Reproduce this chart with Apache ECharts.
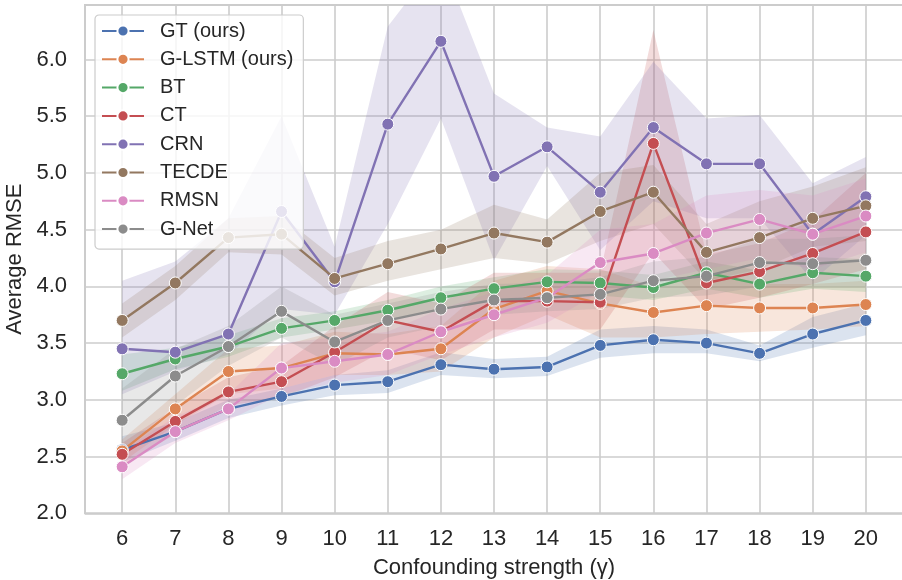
<!DOCTYPE html>
<html>
<head>
<meta charset="utf-8">
<script src="https://cdn.jsdelivr.net/npm/echarts@6/dist/echarts.min.js"></script>
<style>
  html, body { margin: 0; padding: 0; background: #fff; }
  #chart { width: 902px; height: 580px; }
</style>
</head>
<body>
<div id="chart"></div>
<script>
// Confounding strength values on the x axis
const gammas = [6, 7, 8, 9, 10, 11, 12, 13, 14, 15, 16, 17, 18, 19, 20];
const yTicks = [2.0, 2.5, 3.0, 3.5, 4.0, 4.5, 5.0, 5.5, 6.0];

const modelNames = ['GT (ours)', 'G-LSTM (ours)', 'BT', 'CT', 'CRN', 'TECDE', 'RMSN', 'G-Net'];
const modelColors = ['#4c72b0', '#dd8452', '#55a868', '#c44e52', '#8172b3', '#937860', '#da8bc3', '#8c8c8c'];

// Mean RMSE per model
const gtMean    = [2.56, 2.72, 2.92, 3.03, 3.13, 3.16, 3.31, 3.27, 3.29, 3.48, 3.53, 3.50, 3.41, 3.58, 3.70];
const glstmMean = [2.55, 2.92, 3.25, 3.28, 3.41, 3.40, 3.45, 3.80, 3.96, 3.85, 3.77, 3.83, 3.81, 3.81, 3.84];
const btMean    = [3.23, 3.36, 3.47, 3.63, 3.70, 3.79, 3.90, 3.98, 4.04, 4.03, 3.99, 4.12, 4.02, 4.12, 4.09];
const ctMean    = [2.52, 2.81, 3.07, 3.16, 3.42, 3.70, 3.60, 3.87, 3.87, 3.86, 5.26, 4.03, 4.13, 4.29, 4.48];
const crnMean   = [3.45, 3.42, 3.58, 4.66, 4.04, 5.43, 6.16, 4.97, 5.23, 4.83, 5.40, 5.08, 5.08, 4.46, 4.79];
const tecdeMean = [3.70, 4.03, 4.43, 4.46, 4.07, 4.20, 4.33, 4.47, 4.39, 4.66, 4.83, 4.30, 4.43, 4.60, 4.71];
const rmsnMean  = [2.41, 2.72, 2.92, 3.28, 3.34, 3.40, 3.60, 3.75, 3.90, 4.21, 4.29, 4.47, 4.59, 4.46, 4.62];
const gnetMean  = [2.82, 3.21, 3.47, 3.78, 3.51, 3.70, 3.80, 3.88, 3.90, 3.93, 4.05, 4.09, 4.21, 4.20, 4.23];

// 95% confidence interval bounds per model
const gtLow     = [2.45, 2.64, 2.84, 2.95, 3.04, 3.06, 3.22, 3.19, 3.21, 3.37, 3.41, 3.41, 3.34, 3.46, 3.57];
const gtHigh    = [2.68, 2.80, 3.00, 3.10, 3.22, 3.26, 3.42, 3.36, 3.38, 3.62, 3.65, 3.62, 3.48, 3.73, 3.85];
const glstmLow  = [2.45, 2.78, 3.05, 3.10, 3.22, 3.22, 3.25, 3.55, 3.75, 3.55, 3.55, 3.58, 3.60, 3.62, 3.65];
const glstmHigh = [2.65, 3.05, 3.45, 3.48, 3.60, 3.58, 3.65, 4.05, 4.18, 4.15, 4.00, 4.10, 4.02, 4.02, 4.05];
const btLow     = [3.08, 3.27, 3.38, 3.55, 3.62, 3.70, 3.80, 3.88, 3.93, 3.92, 3.88, 3.98, 3.90, 3.98, 3.95];
const btHigh    = [3.40, 3.46, 3.57, 3.72, 3.78, 3.88, 4.00, 4.08, 4.15, 4.14, 4.10, 4.22, 4.14, 4.26, 4.24];
const ctLow     = [2.42, 2.70, 2.95, 3.02, 3.20, 3.45, 3.35, 3.62, 3.62, 3.62, 4.30, 3.80, 3.90, 4.02, 4.15];
const ctHigh    = [2.62, 2.93, 3.20, 3.30, 3.65, 3.95, 3.85, 4.12, 4.12, 4.12, 6.26, 4.28, 4.38, 4.58, 5.00];
const crnLow    = [3.05, 3.25, 3.40, 3.80, 3.75, 4.55, 5.48, 4.23, 5.06, 4.32, 4.75, 4.60, 4.60, 4.05, 4.45];
const crnHigh   = [4.05, 4.22, 4.60, 5.50, 4.35, 6.29, 6.90, 5.70, 5.40, 5.32, 5.98, 5.48, 5.51, 4.91, 5.14];
const tecdeLow  = [3.55, 3.88, 4.30, 4.28, 3.92, 4.05, 4.15, 4.25, 4.20, 4.40, 4.55, 4.05, 4.15, 4.35, 4.40];
const tecdeHigh = [3.85, 4.18, 4.60, 4.62, 4.25, 4.40, 4.50, 4.72, 4.59, 5.00, 5.07, 4.55, 4.75, 4.88, 5.05];
const rmsnLow   = [2.30, 2.62, 2.82, 3.05, 3.15, 3.22, 3.40, 3.55, 3.68, 3.95, 4.05, 4.15, 4.25, 4.15, 4.30];
const rmsnHigh  = [2.55, 2.85, 3.05, 3.50, 3.55, 3.60, 3.80, 3.95, 4.10, 4.50, 4.55, 4.80, 4.85, 4.80, 4.95];
const gnetLow   = [2.55, 2.95, 3.30, 3.55, 3.30, 3.55, 3.65, 3.75, 3.78, 3.80, 3.90, 3.92, 4.00, 4.00, 4.00];
const gnetHigh  = [3.10, 3.45, 3.65, 4.00, 3.75, 3.85, 3.95, 4.02, 4.03, 4.08, 4.22, 4.26, 4.42, 4.42, 4.45];

const means = [gtMean, glstmMean, btMean, ctMean, crnMean, tecdeMean, rmsnMean, gnetMean];
const lows  = [gtLow, glstmLow, btLow, ctLow, crnLow, tecdeLow, rmsnLow, gnetLow];
const highs = [gtHigh, glstmHigh, btHigh, ctHigh, crnHigh, tecdeHigh, rmsnHigh, gnetHigh];

const FONT = "'Liberation Sans', Arial, sans-serif";
const TEXT = '#262626';
const GRID = '#cccccc';

function hexToRgba(hex, a) {
  const n = parseInt(hex.slice(1), 16);
  return 'rgba(' + ((n >> 16) & 255) + ',' + ((n >> 8) & 255) + ',' + (n & 255) + ',' + a + ')';
}

// Shaded confidence band: one polygon through the upper bounds and back along the lower bounds
function bandRenderer(lo, hi, fill) {
  return function (params, api) {
    if (params.dataIndex !== 0) return null;
    const pts = [];
    for (let i = 0; i < gammas.length; i++) pts.push(api.coord([gammas[i], hi[i]]));
    for (let i = gammas.length - 1; i >= 0; i--) pts.push(api.coord([gammas[i], lo[i]]));
    const cs = params.coordSys;
    return {
      type: 'group',
      clipPath: { type: 'rect', shape: { x: cs.x, y: cs.y, width: cs.width, height: cs.height } },
      children: [{
        type: 'polygon',
        shape: { points: pts },
        style: { fill: fill, stroke: null },
        silent: true
      }]
    };
  };
}

const series = [];
modelNames.forEach(function (name, k) {
  series.push({
    name: name + ' CI',
    type: 'custom',
    z: 1,
    clip: true,
    silent: true,
    renderItem: bandRenderer(lows[k], highs[k], hexToRgba(modelColors[k], 0.2)),
    encode: { x: 0, y: [1, 2] },
    data: gammas.map(function (g, i) { return [g, lows[k][i], highs[k][i]]; })
  });
});
modelNames.forEach(function (name, k) {
  series.push({
    name: name,
    type: 'line',
    z: 3,
    symbol: 'circle',
    symbolSize: 12,
    showSymbol: true,
    lineStyle: { width: 2.4, color: modelColors[k] },
    itemStyle: { color: modelColors[k], borderColor: '#ffffff', borderWidth: 1 },
    emphasis: { disabled: true },
    data: gammas.map(function (g, i) { return [g, means[k][i]]; })
  });
});

const chart = echarts.init(document.getElementById('chart'), null, { renderer: 'canvas' });
chart.setOption({
  animation: false,
  backgroundColor: '#ffffff',
  textStyle: { fontFamily: FONT },
  grid: {
    left: 85, top: 5, width: 818, height: 508.3,
    containLabel: false,
    outerBoundsMode: 'none',
    show: true, borderColor: GRID, borderWidth: 2, backgroundColor: 'transparent'
  },
  legend: {
    data: modelNames,
    orient: 'vertical',
    left: 95, top: 15,
    itemWidth: 42, itemHeight: 14,
    itemGap: 8.3,
    padding: [6, 10, 10, 6],
    backgroundColor: 'rgba(255,255,255,0.8)',
    borderColor: GRID, borderWidth: 1.2, borderRadius: 4,
    textStyle: { fontSize: 20, color: TEXT, fontFamily: FONT, lineHeight: 20, padding: [0, 0, 0, 11] }
  },
  xAxis: {
    type: 'value',
    min: 5.3, max: 20.7,
    name: 'Confounding strength (\u03b3)',
    nameLocation: 'middle',
    nameGap: 44,
    nameTextStyle: { fontSize: 22, color: TEXT, fontFamily: FONT },
    axisLine: { show: false },
    axisTick: { show: false, customValues: gammas },
    axisLabel: { customValues: gammas, fontSize: 22, color: TEXT, margin: 15, fontFamily: FONT },
    splitLine: { show: true, lineStyle: { color: GRID, width: 1.6 } }
  },
  yAxis: {
    type: 'value',
    min: 2.0, max: 6.48,
    name: 'Average RMSE',
    nameLocation: 'middle',
    nameGap: 58,
    nameTextStyle: { fontSize: 22, color: TEXT, fontFamily: FONT },
    axisLine: { show: false },
    axisTick: { show: false, customValues: yTicks },
    axisLabel: {
      customValues: yTicks, fontSize: 22, color: TEXT, margin: 18, fontFamily: FONT,
      formatter: function (v) { return v.toFixed(1); }
    },
    splitLine: { show: true, lineStyle: { color: GRID, width: 1.6 } }
  },
  series: series
});
</script>
</body>
</html>
